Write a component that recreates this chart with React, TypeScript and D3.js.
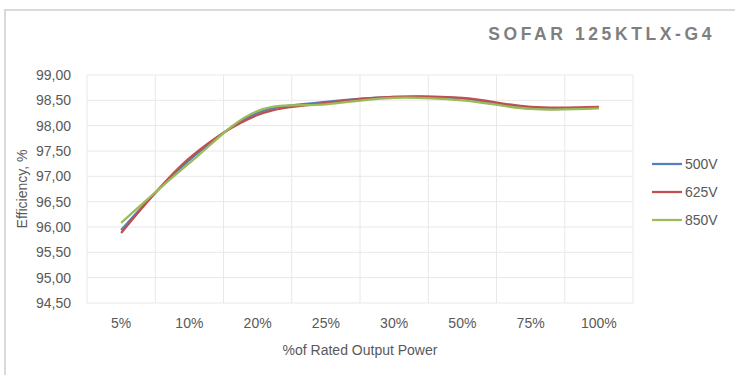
import React from "react";
import * as d3 from "d3";

const categories = ["5%", "10%", "20%", "25%", "30%", "50%", "75%", "100%"];
const seriesNames = ["500V", "625V", "850V"];
const v500 = [95.94, 97.32, 98.25, 98.47, 98.57, 98.54, 98.34, 98.36];
const v625 = [95.88, 97.36, 98.21, 98.45, 98.57, 98.55, 98.37, 98.37];
const v850 = [96.08, 97.26, 98.29, 98.42, 98.55, 98.5, 98.33, 98.34];
const yTicks = [94.5, 95, 95.5, 96, 96.5, 97, 97.5, 98, 98.5, 99];
const colors = ["#4F81BD", "#C0504D", "#9BBB59"];

export default function App() {
  const W = 735, H = 375;
  const left = 87, right = 633, top = 75, bottom = 303;
  const x = d3.scaleBand().domain(categories).range([left, right]);
  const y = d3.scaleLinear().domain([94.5, 99]).range([bottom, top]);
  const data = [v500, v625, v850];
  const line = d3
    .line<number>()
    .x((_, i) => (x(categories[i]) as number) + x.bandwidth() / 2)
    .y((d) => y(d))
    .curve(d3.curveCatmullRom.alpha(0.5));
  const font = "Liberation Sans, Arial, sans-serif";
  const boundaries = categories.map((c) => x(c) as number).concat([right]);
  return (
    <svg
      width={W}
      height={H}
      style={{ position: "absolute", left: 0, top: 0, background: "#fff" }}
      fontFamily={font}
    >
      <rect x={0} y={0} width={W} height={H} fill="#fff" />
      <path d={`M5,${H} V10 H${W}`} fill="none" stroke="#d9d9d9" strokeWidth={2} />
      <text
        x={715}
        y={40}
        textAnchor="end"
        fontSize={17.5}
        fontWeight="bold"
        fill="#7f7f7f"
        letterSpacing={3.6}
      >
        SOFAR 125KTLX-G4
      </text>
      {yTicks.map((t) => (
        <line key={"h" + t} x1={left} x2={right} y1={y(t)} y2={y(t)} stroke="#e8e8e8" strokeWidth={1} />
      ))}
      {boundaries.map((b, i) => (
        <line key={"v" + i} x1={b} x2={b} y1={top} y2={bottom} stroke="#e8e8e8" strokeWidth={1} />
      ))}
      {yTicks.map((t) => (
        <text key={"yt" + t} x={71} y={y(t)} dy="0.35em" textAnchor="end" fontSize={14} fill="#595959">
          {t.toFixed(2).replace(".", ",")}
        </text>
      ))}
      {categories.map((c) => (
        <text
          key={"xt" + c}
          x={(x(c) as number) + x.bandwidth() / 2}
          y={323}
          dy="0.35em"
          textAnchor="middle"
          fontSize={14}
          fill="#595959"
        >
          {c}
        </text>
      ))}
      <text x={360} y={350} dy="0.35em" textAnchor="middle" fontSize={14} fill="#595959">
        %of Rated Output Power
      </text>
      <text
        transform={`translate(22,${(top + bottom) / 2}) rotate(-90)`}
        textAnchor="middle"
        dy="0.35em"
        fontSize={14}
        fill="#595959"
      >
        Efficiency, %
      </text>
      {data.map((d, i) => (
        <path key={"s" + i} d={line(d) || ""} fill="none" stroke={colors[i]} strokeWidth={2.25} />
      ))}
      {seriesNames.map((n, i) => (
        <g key={"lg" + n}>
          <line x1={652} x2={682} y1={164 + i * 28} y2={164 + i * 28} stroke={colors[i]} strokeWidth={2.25} />
          <text x={685} y={164 + i * 28} dy="0.35em" fontSize={14} fill="#595959">
            {n}
          </text>
        </g>
      ))}
    </svg>
  );
}
